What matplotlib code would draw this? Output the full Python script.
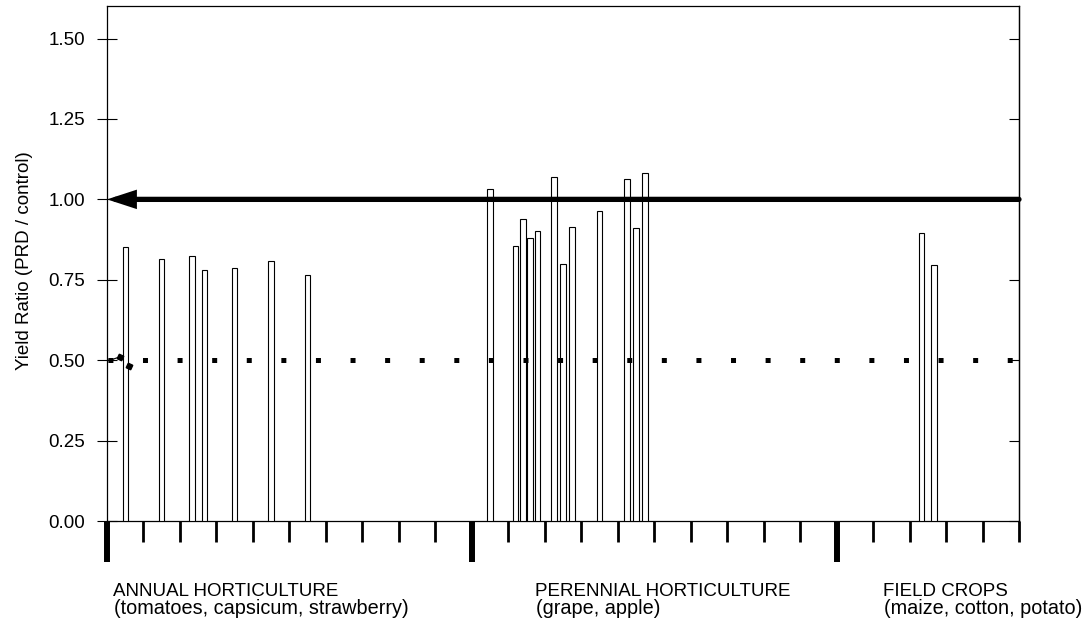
import matplotlib
matplotlib.use("Agg")
import matplotlib.pyplot as plt
from matplotlib.patches import ArrowStyle

plt.rcParams['font.family'] = ['Liberation Sans', 'DejaVu Sans']

# Yield ratio (PRD / control) for each study, grouped by crop type
annual_pos = [0.5, 1.5, 2.33, 2.67, 3.5, 4.5, 5.5]
annual_ratio = [0.851, 0.814, 0.825, 0.780, 0.788, 0.808, 0.765]

perennial_pos = [10.5, 11.2, 11.4, 11.6, 11.8, 12.25, 12.5, 12.75, 13.5, 14.25, 14.5, 14.75]
perennial_ratio = [1.031, 0.855, 0.938, 0.879, 0.902, 1.070, 0.799, 0.915, 0.963, 1.062, 0.910, 1.083]

field_pos = [22.33, 22.67]
field_ratio = [0.894, 0.797]

# reference levels
parity_level = 1.00
half_level = 0.50
kink_x = [0.093, 0.36, 0.61]
kink_y = [0.500, 0.511, 0.482]

y_ticks = [0.00, 0.25, 0.50, 0.75, 1.00, 1.25, 1.50]
group_edges = [0, 10, 20]
x_max = 25

group_titles = ["ANNUAL HORTICULTURE", "PERENNIAL HORTICULTURE", "FIELD CROPS"]
group_subtitles = ["(tomatoes, capsicum, strawberry)", "(grape, apple)",
                   "(maize, cotton, potato)"]

W, H = 1083, 625
fig = plt.figure(figsize=(W / 100, H / 100), dpi=100)
ax = fig.add_axes([107 / W, 1 - 521 / H, (1019 - 107) / W, (521 - 6.4) / H])

ax.set_xlim(0, x_max)
ax.set_ylim(0, 1.6)

bar_kw = dict(width=0.15, color="white", edgecolor="black", linewidth=0.8, zorder=3)
for pos, vals in [(annual_pos, annual_ratio), (perennial_pos, perennial_ratio),
                  (field_pos, field_ratio)]:
    ax.bar(pos, vals, **bar_kw)

# dotted line at 0.5 (square dots, ~34.6 px apart)
lw_dot = 3.6
on_px, period_px, first_px = 5.0, 34.59, 0.9
off = (period_px - on_px) / on_px
offset = (period_px - first_px) / on_px
ax.plot([0, x_max], [half_level, half_level], color="black", lw=lw_dot,
        linestyle=(offset, (1.0, off)), dash_capstyle="butt", zorder=4)
ax.plot([0] + kink_x[:2], [half_level] + kink_y[:2], color="black", lw=0.8, zorder=4)
ax.plot(kink_x[1:], kink_y[1:], linestyle="none", marker=(4, 0, 20),
        markersize=5.0, color="black", zorder=4)

# arrow at parity
ax.annotate("", xy=(0, parity_level), xytext=(x_max, parity_level),
            arrowprops=dict(arrowstyle=ArrowStyle("-|>", head_length=13.5, head_width=4.4),
                            lw=3.8, color="black", shrinkA=0, shrinkB=0,
                            mutation_scale=1, joinstyle="miter"),
            annotation_clip=False, zorder=5)

for sp in ax.spines.values():
    sp.set_linewidth(0.9)

ax.set_yticks(y_ticks)
ax.set_yticklabels([f"{v:.2f}" for v in y_ticks])
ax.tick_params(axis="y", direction="inout", length=15, width=0.8, pad=8, labelsize=13.5)

ax.set_xticks(group_edges)
ax.set_xticks([i for i in range(0, x_max + 1) if i not in group_edges], minor=True)
ax.tick_params(axis="x", which="major", direction="out", length=29.5, width=4.3,
               labelbottom=False)
ax.tick_params(axis="x", which="minor", direction="out", length=15, width=2)

sec = ax.secondary_yaxis("right")
sec.set_yticks(y_ticks)
sec.set_yticklabels([])
sec.tick_params(direction="in", length=7.2, width=0.8)
sec.spines["right"].set_linewidth(0.9)

fig.text(25 / W, 1 - 261 / H, "Yield Ratio (PRD / control)", rotation=90,
         ha="center", va="center", fontsize=13.5)

title_x = [113, 535, 883]
for x, t, s in zip(title_x, group_titles, group_subtitles):
    fig.text(x / W, 1 - 596 / H, t, ha="left", va="baseline", fontsize=13.5)
    fig.text((x + 0.5) / W, 1 - 614 / H, s, ha="left", va="baseline", fontsize=14.3)

fig.savefig("out.png", dpi=100)
